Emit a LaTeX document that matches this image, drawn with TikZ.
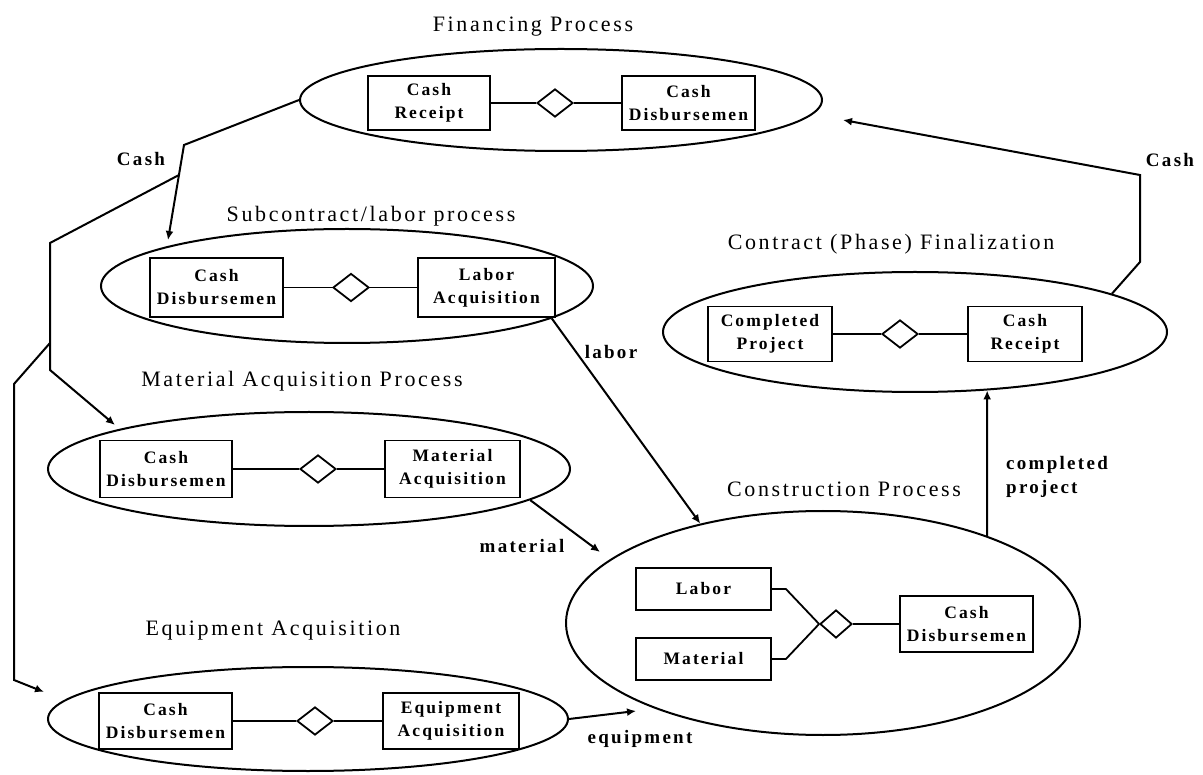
\documentclass[tikz,border=0pt]{standalone}
\usepackage{fontspec}
\setmainfont{Liberation Serif}[LetterSpace=12]
\usetikzlibrary{shapes.geometric,arrows.meta,calc}

\begin{document}
\begin{tikzpicture}[x=1pt,y=-1pt,
  proc/.style={draw, ellipse, line width=2pt, inner sep=0pt},
  ent/.style={draw, rectangle, line width=1.8pt, inner sep=0pt, align=center,
    font=\fontsize{17.5}{23}\selectfont\bfseries},
  rel/.style={draw, diamond, line width=1.8pt, inner sep=0pt,
    minimum width=36pt, minimum height=28pt},
  link/.style={line width=1.8pt},
  flow/.style={line width=2pt, -{Latex[length=9pt,width=8pt]}},
  title/.style={font=\fontsize{22}{24}\selectfont, anchor=base, inner sep=0pt},
  flowlabel/.style={font=\fontsize{19}{24}\selectfont\bfseries, anchor=base, inner sep=0pt},
]
\fill[white] (0,0) rectangle (1203,775);
\useasboundingbox (0,0) rectangle (1203,775);

% process ellipses
\node[proc, minimum width=522pt, minimum height=102pt] (fin) at (561,100) {};
\node[proc, minimum width=492pt, minimum height=114pt] (sub) at (347,286) {};
\node[proc, minimum width=522pt, minimum height=114pt] (mat) at (309,469) {};
\node[proc, minimum width=520pt, minimum height=104pt] (equ) at (308,719) {};
\node[proc, minimum width=514pt, minimum height=224pt] (con) at (823,623) {};
\node[proc, minimum width=504pt, minimum height=120pt] (ctr) at (915,332) {};

% process titles
\node[title] (finT) at (533,32) {Financing Process};
\node[title] (subT) at (371,222) {Subcontract/labor process};
\node[title] (matT) at (302,387) {Material Acquisition Process};
\node[title] (equT) at (273,635) {Equipment Acquisition};
\node[title] (conT) at (844,497) {Construction Process};
\node[title] (ctrT) at (891,250) {Contract (Phase) Finalization};

% financing
\node[ent, minimum width=122pt, minimum height=54pt] (finRcpt) at (429,103) {Cash\\Receipt};
\node[rel] (finRel) at (555,103) {};
\node[ent, minimum width=133pt, minimum height=54pt] (finDisb) at (688.5,103) {Cash\\Disbursemen};
\draw[link] (finRcpt) -- (finRel) -- (finDisb);

% subcontract / labor
\node[ent, minimum width=133pt, minimum height=59pt] (subDisb) at (216.5,287.5) {Cash\\Disbursemen};
\node[rel] (subRel) at (351,287.5) {};
\node[ent, minimum width=137pt, minimum height=59pt] (subLab) at (486.5,287.5) {Labor\\Acquisition};
\draw[link] (subDisb) -- (subRel) -- (subLab);

% material acquisition
\node[ent, minimum width=132pt, minimum height=57pt] (matDisb) at (166,469) {Cash\\Disbursemen};
\node[rel] (matRel) at (318,469) {};
\node[ent, minimum width=135pt, minimum height=57pt] (matAcq) at (452.5,469) {Material\\Acquisition};
\draw[link] (matDisb) -- (matRel) -- (matAcq);

% equipment acquisition
\node[ent, minimum width=133pt, minimum height=56pt] (equDisb) at (165.5,721) {Cash\\Disbursemen};
\node[rel] (equRel) at (315,721) {};
\node[ent, minimum width=136pt, minimum height=56pt] (equAcq) at (451,721) {Equipment\\Acquisition};
\draw[link] (equDisb) -- (equRel) -- (equAcq);

% construction
\node[ent, minimum width=135pt, minimum height=42pt] (conLab) at (703.5,589) {Labor};
\node[ent, minimum width=135pt, minimum height=42pt] (conMat) at (703.5,659) {Material};
\node[rel, minimum width=32pt] (conRel) at (836,624) {};
\node[ent, minimum width=133pt, minimum height=56pt] (conDisb) at (966.5,624) {Cash\\Disbursemen};
\draw[link] (conLab.east) -- ++(14,0) -- (conRel.west);
\draw[link] (conMat.east) -- ++(14,0) -- (conRel.west);
\draw[link] (conRel) -- (conDisb);

% contract finalization
\node[ent, minimum width=124pt, minimum height=55pt] (ctrProj) at (770,334) {Completed\\Project};
\node[rel] (ctrRel) at (900,334) {};
\node[ent, minimum width=114pt, minimum height=55pt] (ctrRcpt) at (1025,334) {Cash\\Receipt};
\draw[link] (ctrProj) -- (ctrRel) -- (ctrRcpt);

% cash from financing to the acquisition processes
\coordinate (finBend) at (184,145);
\coordinate (subIn) at (168,240);
\draw[flow] (fin.west) -- (finBend) -- (subIn);
\coordinate (split) at ($(finBend)!0.316!(subIn)$);
\coordinate (leftBend) at (50,243);
\coordinate (leftMid) at (50,343);
\coordinate (leftLow) at (50,370);
\coordinate (matIn) at (115,425);
\draw[flow] (split) -- (leftBend) -- (leftLow) -- (matIn);
\coordinate (farBend) at (14,384);
\coordinate (farLow) at (14,680);
\coordinate (equIn) at (44,692);
\draw[flow] (leftMid) -- (farBend) -- (farLow) -- (equIn);
\node[flowlabel] (cashL) at (141,166) {Cash};

% resources into construction
\draw[flow] (sub.-9.7) -- (con.141.4);
\node[flowlabel] (laborL) at (611,359) {labor};
\coordinate (conMatIn) at (600,552);
\draw[flow] (mat.-8.1) -- (conMatIn);
\node[flowlabel] (materialL) at (522,553) {material};
\coordinate (conEquIn) at (636,711);
\draw[flow] (equ.east) -- (conEquIn);
\node[flowlabel] (equipmentL) at (640,743) {equipment};

% completed project and cash back to financing
\draw[flow] (con.28.5) -- (ctr.-39.4);
\node[flowlabel, anchor=west, align=left] (projL) at (1006,477) {completed\\project};
\coordinate (ctrBend) at (1140,262);
\coordinate (ctrTop) at (1140,175);
\coordinate (finIn) at (843,120);
\draw[flow] (ctr.11.3) -- (ctrBend) -- (ctrTop) -- (finIn);
\node[flowlabel] (cashR) at (1170,167) {Cash};
\end{tikzpicture}
\end{document}
